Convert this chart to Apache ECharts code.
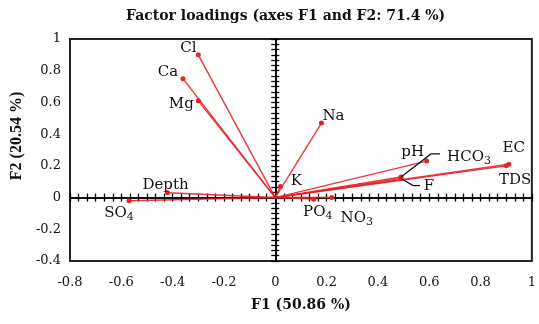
<!DOCTYPE html>
<html>
<head>
<meta charset="utf-8">
<script src="https://cdn.jsdelivr.net/npm/echarts@6/dist/echarts.min.js"></script>
<style>html,body{margin:0;padding:0;background:#fff}#c{width:539px;height:324px}</style>
</head>
<body>
<div id="c"></div>
<script>
// ---- data ----
const variables = ['Cl', 'Ca', 'Mg', 'Na', 'K', 'pH', 'HCO3', 'F', 'EC', 'TDS', 'PO4', 'NO3', 'Depth', 'SO4'];
const displayNames = ['Cl', 'Ca', 'Mg', 'Na', 'K', 'pH', 'HCO{s|3}', 'F', 'EC', 'TDS', 'PO{s|4}', 'NO{s|3}', 'Depth', 'SO{s|4}'];
const f1Loadings = [-0.30, -0.36, -0.30, 0.18, 0.02, 0.59, 0.49, 0.49, 0.91, 0.90, 0.15, 0.22, -0.42, -0.57];
const f2Loadings = [0.90, 0.75, 0.61, 0.47, 0.07, 0.23, 0.13, 0.12, 0.21, 0.20, -0.01, 0.00, 0.03, -0.02];
const chartTitle = 'Factor loadings (axes F1 and F2: 71.4 %)';
const xAxisName = 'F1 (50.86 %)';
const yAxisName = 'F2 (20.54 %)';

// ---- label layout (pixel offsets from the point to the label centre) ----
const labelOffsets = {
  Cl: [-10, -7], Ca: [-15, -7], Mg: [-17, 3], Na: [12, -7], K: [16, -5],
  pH: [-14, -9], HCO3: [68, -20], F: [28, 8], EC: [5, -16], TDS: [9, 14],
  PO4: [4, 13], NO3: [25, 21], Depth: [-2, -8], SO4: [-10, 12]
};
const leaders = {
  HCO3: [[0, 0], [30, -23], [39, -23]],
  F: [[0, 0], [12, 7], [19, 7]]
};

const serif = 'DejaVu Serif';
const red = '#e52228';

const series = variables.map((v, i) => ({
  type: 'line',
  name: v,
  silent: true,
  animation: false,
  lineStyle: { color: red, width: 1.4, opacity: 0.9 },
  itemStyle: { color: red },
  symbol: 'circle',
  symbolSize: 5,
  data: [
    { value: [0, 0], symbol: 'none' },
    {
      value: [f1Loadings[i], f2Loadings[i]],
      label: {
        show: true,
        position: 'inside',
        align: 'center',
        verticalAlign: 'middle',
        offset: labelOffsets[v],
        formatter: displayNames[i],
        fontFamily: serif,
        fontSize: 15,
        color: '#111',
        rich: {
          s: { fontFamily: serif, fontSize: 11, color: '#111', padding: [8, 0, 0, 0] }
        }
      }
    }
  ]
}));

function crossAxis(kind, inside) {
  return {
    type: 'value',
    min: kind === 'x' ? -0.8 : -0.4,
    max: 1,
    interval: 0.2,
    axisLine: { show: true, onZero: true, lineStyle: { color: '#000', width: 1.5 } },
    axisTick: { show: true, inside: inside, length: 4, lineStyle: { color: '#000', width: 1.3 } },
    minorTick: { show: true, splitNumber: 6, length: 4, lineStyle: { color: '#000', width: 1.3 } },
    axisLabel: { show: false },
    splitLine: { show: false },
    minorSplitLine: { show: false }
  };
}

const chart = echarts.init(document.getElementById('c'), null, { renderer: 'canvas' });
chart.setOption({
  animation: false,
  backgroundColor: '#fff',
  title: {
    text: chartTitle,
    left: 126,
    top: 9,
    padding: 0,
    textStyle: { fontFamily: serif, fontSize: 14, fontWeight: 'bold', color: '#111' }
  },
  grid: { left: 70, right: 4, top: 39, bottom: 63, show: true, borderColor: '#222', borderWidth: 2, backgroundColor: 'transparent' },
  xAxis: [
    {
      type: 'value', min: -0.8, max: 1, interval: 0.2, position: 'bottom',
      axisLine: { show: false, onZero: false }, axisTick: { show: false }, splitLine: { show: false },
      axisLabel: { fontFamily: serif, fontSize: 13, color: '#111', margin: 15 },
      name: xAxisName, nameLocation: 'middle', nameGap: 37,
      nameTextStyle: { fontFamily: serif, fontSize: 14, fontWeight: 'bold', color: '#111' }
    },
    crossAxis('x', false),
    crossAxis('x', true)
  ],
  yAxis: [
    {
      type: 'value', min: -0.4, max: 1, interval: 0.2, position: 'left',
      axisLine: { show: false, onZero: false }, axisTick: { show: false }, splitLine: { show: false },
      axisLabel: { fontFamily: serif, fontSize: 13, color: '#111', margin: 9 },
      name: yAxisName, nameLocation: 'middle', nameGap: 44,
      nameTextStyle: { fontFamily: 'Liberation Serif', fontSize: 16, fontWeight: 'bold', color: '#111', padding: [0, 0, 0, 28] }
    },
    crossAxis('y', false),
    crossAxis('y', true)
  ],
  series: series
});

// leader lines for crowded labels
const graphics = [];
Object.keys(leaders).forEach(v => {
  const i = variables.indexOf(v);
  const p = chart.convertToPixel({ xAxisIndex: 0, yAxisIndex: 0 }, [f1Loadings[i], f2Loadings[i]]);
  graphics.push({
    type: 'polyline',
    silent: true,
    z: 5,
    shape: { points: leaders[v].map(o => [p[0] + o[0], p[1] + o[1]]) },
    style: { stroke: '#111', lineWidth: 1.2, fill: null, lineJoin: 'miter' }
  });
});
chart.setOption({ graphic: graphics });
</script>
</body>
</html>
